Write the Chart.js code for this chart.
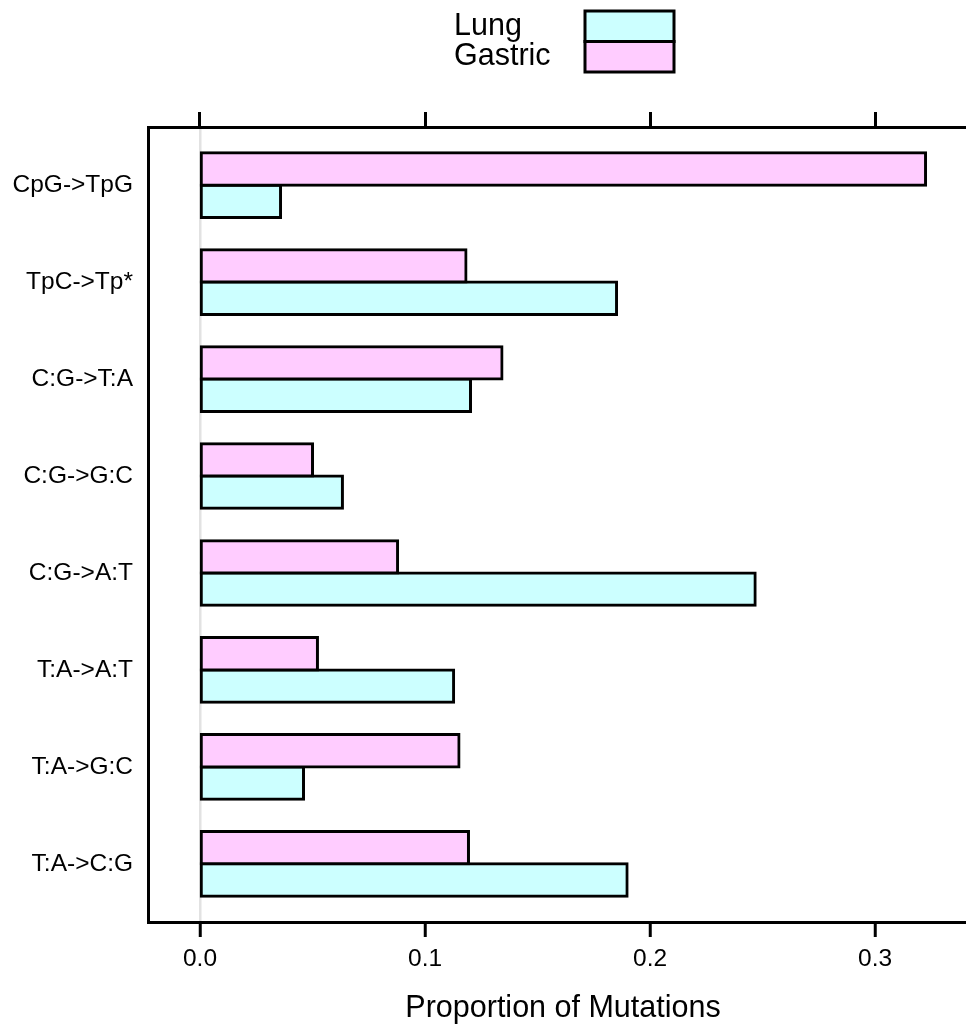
<!DOCTYPE html>
<html>
<head>
<meta charset="utf-8">
<script src="https://cdn.jsdelivr.net/npm/chart.js@4/dist/chart.umd.min.js"></script>
<style>
  html, body { margin: 0; padding: 0; background: #fff; overflow: hidden; }
  #wrap { width: 966px; height: 1028px; overflow: hidden; }
</style>
</head>
<body>
<div id="wrap"><canvas id="c" width="990" height="1028"></canvas></div>
<script>
// Mutation classes, listed top to bottom
const categories = ['CpG->TpG', 'TpC->Tp*', 'C:G->T:A', 'C:G->G:C', 'C:G->A:T', 'T:A->A:T', 'T:A->G:C', 'T:A->C:G'];
// Proportion of mutations in each class
const gastric = [0.3224, 0.1182, 0.1342, 0.0500, 0.0878, 0.0522, 0.1151, 0.1193];
const lung    = [0.0358, 0.1851, 0.1202, 0.0633, 0.2467, 0.1127, 0.0460, 0.1898];
const xTicks  = [0.0, 0.1, 0.2, 0.3];

const FONT = "'Liberation Sans', Arial, Helvetica, sans-serif";
Chart.defaults.font.family = FONT;
Chart.defaults.color = '#000';

const toPoints = vals => vals.map((v, i) => ({ x: v, y: i + 1 }));

// Key in the top margin: labels on the left, stacked swatches on the right
const keyPlugin = {
  id: 'stackedKey',
  afterDraw(chart) {
    const ctx = chart.ctx;
    const items = chart.data.datasets.slice().reverse();
    const x0 = 585, w = 89, h = 30.5, y0 = 11;
    ctx.save();
    ctx.font = '30.5px ' + FONT;
    ctx.fillStyle = '#000';
    ctx.textBaseline = 'alphabetic';
    ctx.textAlign = 'left';
    items.forEach((ds, i) => {
      ctx.fillText(ds.label, 454, 35 + i * 29.5);
    });
    items.forEach((ds, i) => {
      ctx.fillStyle = ds.backgroundColor;
      ctx.fillRect(x0, y0 + i * h, w, h);
    });
    ctx.lineWidth = 3;
    ctx.strokeStyle = '#000';
    items.forEach((ds, i) => {
      ctx.strokeRect(x0, y0 + i * h, w, h);
    });
    ctx.restore();
  }
};

// Bar outlines straddle the bar edge, so adjacent bars share one line
const barStyle = { borderColor: '#000', borderWidth: 3, borderSkipped: false, inflateAmount: 1.5 };

new Chart(document.getElementById('c'), {
  type: 'bar',
  data: {
    datasets: [
      Object.assign({ label: 'Gastric', data: toPoints(gastric), backgroundColor: '#FFCCFF' }, barStyle),
      Object.assign({ label: 'Lung',    data: toPoints(lung),    backgroundColor: '#CCFFFF' }, barStyle)
    ]
  },
  options: {
    indexAxis: 'y',
    responsive: false,
    animation: false,
    events: [],
    categoryPercentage: 2 / 3,
    barPercentage: 1,
    layout: { padding: { top: 112, right: 12, bottom: 0, left: 0 } },
    plugins: { legend: { display: false }, tooltip: { enabled: false } },
    scales: {
      x: {
        type: 'linear',
        position: 'bottom',
        min: -0.0231,
        max: 0.3457,
        afterBuildTicks: s => { s.ticks = xTicks.map(v => ({ value: v })); },
        afterFit: s => { s.height = 106; },
        ticks: {
          font: { size: 24.5 },
          padding: 7.5,
          maxRotation: 0,
          callback: v => Number(v).toFixed(1)
        },
        grid: {
          drawOnChartArea: true,
          color: c => (c.tick && Math.abs(c.tick.value) < 1e-9) ? '#e2e2e2' : 'rgba(0,0,0,0)',
          lineWidth: 2.5,
          drawTicks: true,
          tickLength: 15,
          tickWidth: 3,
          tickColor: '#000'
        },
        border: { display: true, color: '#000', width: 3 },
        title: {
          display: true,
          text: 'Proportion of Mutations',
          font: { size: 30.5 },
          padding: { top: 7.5, bottom: 1 }
        }
      },
      xTop: {
        type: 'linear',
        position: 'top',
        min: -0.0231,
        max: 0.3457,
        afterBuildTicks: s => { s.ticks = xTicks.map(v => ({ value: v })); },
        ticks: { display: false },
        grid: {
          drawOnChartArea: false,
          drawTicks: true,
          tickLength: 15,
          tickWidth: 3,
          tickColor: '#000'
        },
        border: { display: true, color: '#000', width: 3 }
      },
      y: {
        type: 'linear',
        position: 'left',
        reverse: true,
        offset: false,
        min: 0.4,
        max: categories.length + 0.6,
        afterBuildTicks: s => { s.ticks = categories.map((c, i) => ({ value: i + 1 })); },
        afterFit: s => { s.width = 148; },
        ticks: {
          font: { size: 24.5 },
          padding: 15,
          callback: v => categories[Math.round(v) - 1]
        },
        grid: { display: false, drawTicks: false, offset: false },
        border: { display: true, color: '#000', width: 3 }
      }
    }
  },
  plugins: [keyPlugin]
});
</script>
</body>
</html>
